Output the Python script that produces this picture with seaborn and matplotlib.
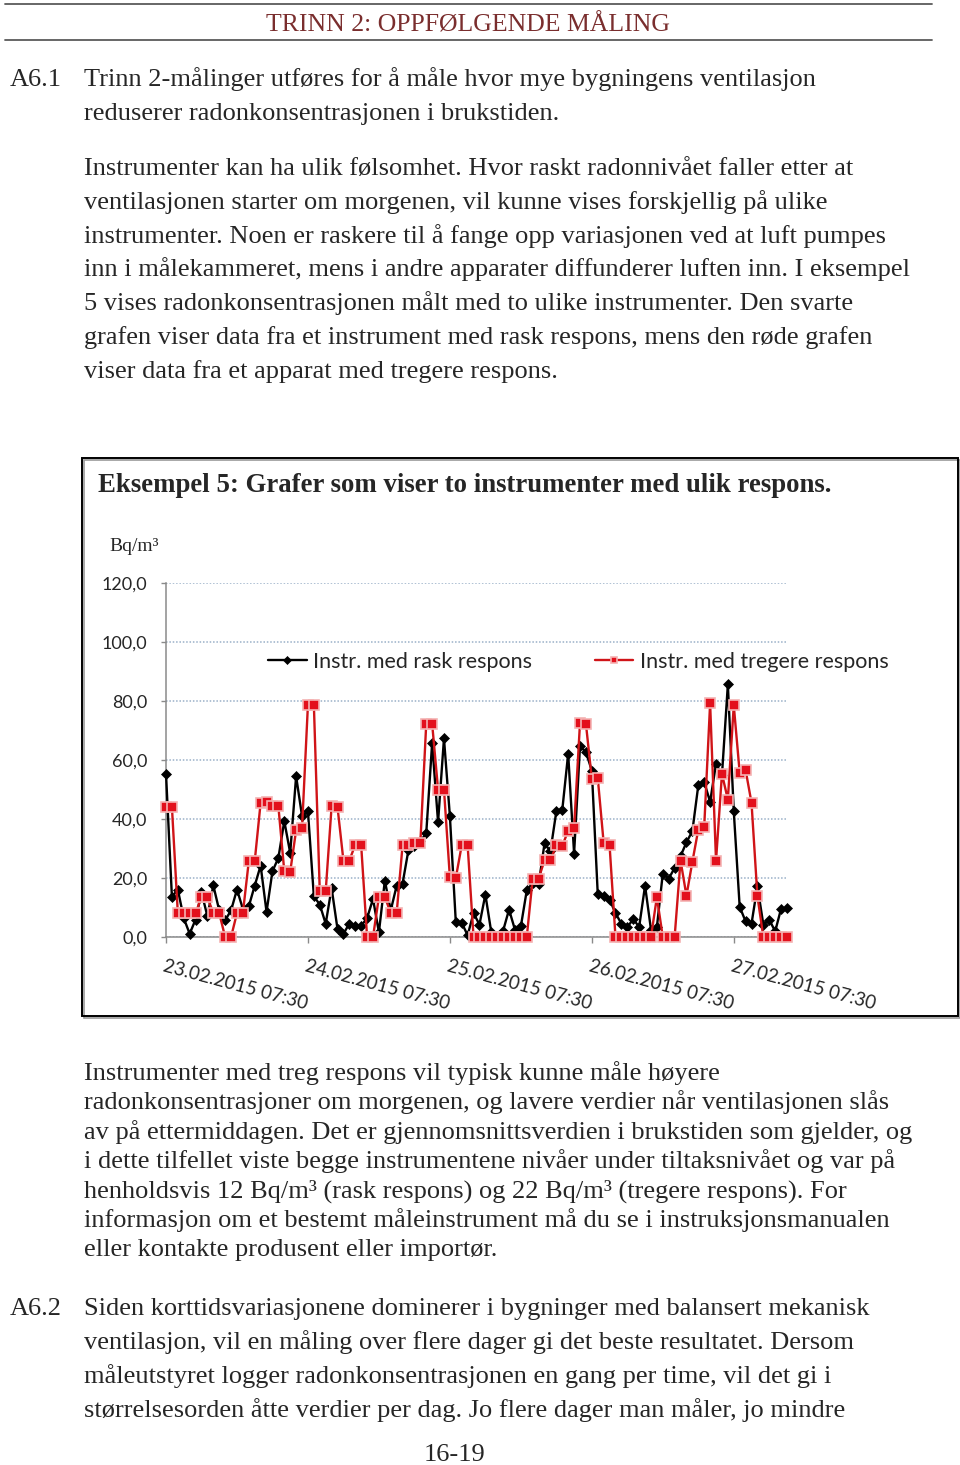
import numpy as np
import pandas as pd
import seaborn as sns
import matplotlib
matplotlib.use("Agg")
import matplotlib.pyplot as plt
from matplotlib.patches import Rectangle
from matplotlib.lines import Line2D

# hourly radon readings, Bq/m3
rask = [55.4, 13.6, 16.1, 6.4, 1.1, 5.9, 15.2, 7.0, 17.5, 9.0,
        5.7, 9.0, 16.1, 9.5, 10.4, 17.4, 24.2, 8.5, 22.3, 26.8,
        39.3, 28.5, 54.5, 41.0, 42.6, 13.8, 11.0, 4.5, 16.6, 2.7,
        1.1, 4.5, 3.6, 3.8, 6.4, 12.9, 1.6, 19.1, 9.0, 17.4,
        18.1, 29.6, 31.0, 32.5, 35.1, 65.8, 38.9, 67.3, 41.0, 5.1,
        4.8, 0.6, 8.1, 4.2, 14.4, 1.6, 0.5, 2.1, 9.3, 2.5,
        3.6, 15.8, 18.3, 17.8, 31.7, 29.1, 42.6, 43.0, 62.1, 28.3,
        64.7, 62.7, 56.4, 14.6, 13.8, 12.7, 8.1, 4.5, 3.3, 6.1,
        3.4, 17.4, 2.5, 3.4, 21.5, 19.8, 23.4, 27.4, 32.1, 35.9,
        51.4, 52.5, 45.8, 58.8, 54.8, 85.6, 42.6, 10.2, 5.3, 4.5,
        17.2, 4.2, 5.9, 1.9, 9.6, 9.7]

treg = [44.1, 44.1, 8.1, 8.1, 8.1, 8.1, 13.5, 13.5, 8.1, 8.1,
        0, 0, 8.1, 8.1, 25.7, 25.7, 45.5, 45.8, 44.3, 44.3,
        22.3, 22.1, 36.2, 36.9, 78.8, 78.8, 15.5, 15.5, 44.3, 44.0,
        25.9, 25.9, 31.3, 31.1, 0, 0, 13.6, 13.6, 8.1, 8.1,
        31.1, 31.3, 31.7, 31.7, 72.3, 72.3, 50.0, 50.0, 20.2, 20.0,
        31.1, 31.1, 0, 0, 0, 0, 0, 0, 0, 0,
        0, 0, 19.8, 19.8, 26.0, 26.0, 31.1, 30.8, 36.1, 37.0,
        72.6, 72.3, 53.6, 54.0, 31.9, 31.1, 0, 0, 0, 0,
        0, 0, 0, 13.5, 0, 0, 0, 25.9, 14.0, 25.5,
        36.4, 37.3, 79.2, 25.9, 55.3, 46.6, 78.5, 55.7, 56.6, 45.5,
        13.8, 0, 0, 0, 0, 0]

date_labels = ["23.02.2015 07:30", "24.02.2015 07:30", "25.02.2015 07:30",
               "26.02.2015 07:30", "27.02.2015 07:30"]
y_ticks = [0, 20, 40, 60, 80, 100, 120]
series_names = ["Instr. med rask respons", "Instr. med tregere respons"]

para1 = ["Trinn 2-målinger utføres for å måle hvor mye bygningens ventilasjon",
         "reduserer radonkonsentrasjonen i brukstiden."]
para2 = ["Instrumenter kan ha ulik følsomhet. Hvor raskt radonnivået faller etter at",
         "ventilasjonen starter om morgenen, vil kunne vises forskjellig på ulike",
         "instrumenter. Noen er raskere til å fange opp variasjonen ved at luft pumpes",
         "inn i målekammeret, mens i andre apparater diffunderer luften inn. I eksempel",
         "5 vises radonkonsentrasjonen målt med to ulike instrumenter. Den svarte",
         "grafen viser data fra et instrument med rask respons, mens den røde grafen",
         "viser data fra et apparat med tregere respons."]
para3 = ["Instrumenter med treg respons vil typisk kunne måle høyere",
         "radonkonsentrasjoner om morgenen, og lavere verdier når ventilasjonen slås",
         "av på ettermiddagen. Det er gjennomsnittsverdien i brukstiden som gjelder, og",
         "i dette tilfellet viste begge instrumentene nivåer under tiltaksnivået og var på",
         "henholdsvis 12 Bq/m³ (rask respons) og 22 Bq/m³ (tregere respons). For",
         "informasjon om et bestemt måleinstrument må du se i instruksjonsmanualen",
         "eller kontakte produsent eller importør."]
para4 = ["Siden korttidsvariasjonene dominerer i bygninger med balansert mekanisk",
         "ventilasjon, vil en måling over flere dager gi det beste resultatet. Dersom",
         "måleutstyret logger radonkonsentrasjonen en gang per time, vil det gi i",
         "størrelsesorden åtte verdier per dag. Jo flere dager man måler, jo mindre"]

sns.set_style("white")
plt.rcParams["font.family"] = ["Liberation Serif", "DejaVu Serif"]

W, H = 960, 1465
fig = plt.figure(figsize=(9.6, 14.65), dpi=100)


def fx(x):
    return x / W


def fy(y):
    return 1 - y / H


serif = "Liberation Serif"
sans = "Lato"
body_size = 19

# page header
fig.add_artist(Line2D([fx(5), fx(932)], [fy(4), fy(4)], color="#5a5a5a", lw=1.3))
fig.add_artist(Line2D([fx(5), fx(932)], [fy(40), fy(40)], color="#5a5a5a", lw=1.3))
fig.text(fx(468), fy(31), "TRINN 2: OPPFØLGENDE MÅLING", ha="center", va="baseline",
         fontsize=18.5, family=serif, color="#7a2e2e")

fig.text(fx(10), fy(86), "A6.1", fontsize=body_size, family=serif, va="baseline")
for i, line in enumerate(para1):
    fig.text(fx(84), fy(86 + 34 * i), line, fontsize=body_size, family=serif, va="baseline")
for i, line in enumerate(para2):
    fig.text(fx(84), fy(175 + 33.8 * i), line, fontsize=body_size, family=serif, va="baseline")
for i, line in enumerate(para3):
    fig.text(fx(84), fy(1080 + 29.3 * i), line, fontsize=body_size, family=serif, va="baseline")
fig.text(fx(10), fy(1315), "A6.2", fontsize=body_size, family=serif, va="baseline")
for i, line in enumerate(para4):
    fig.text(fx(84), fy(1315 + 34 * i), line, fontsize=body_size, family=serif, va="baseline")
fig.text(fx(455), fy(1461), "16-19", ha="center", fontsize=body_size, family=serif, va="baseline")

# chart frame
fig.add_artist(Rectangle((fx(84), fy(1018)), fx(958) - fx(82), fy(458) - fy(1016),
                         transform=fig.transFigure, fill=False, ec="#9a9a9a", lw=1.2))
fig.add_artist(Rectangle((fx(82), fy(1016)), fx(958) - fx(82), fy(458) - fy(1016),
                         transform=fig.transFigure, fill=False, ec="black", lw=1.4))
fig.text(fx(98), fy(492), "Eksempel 5: Grafer som viser to instrumenter med ulik respons.",
         fontsize=19.3, family=serif, fontweight="bold", va="baseline")
fig.text(fx(109), fy(551), "Bq/m³", fontsize=14, family=serif, va="baseline")

ax = fig.add_axes([fx(166), fy(937), fx(787) - fx(166), fy(583) - fy(937)])
df = pd.DataFrame({"t": np.arange(len(rask)), "rask": rask, "treg": treg})

sns.lineplot(data=df, x="t", y="rask", ax=ax, color="black", lw=1.7,
             marker="D", markersize=5.5, markeredgecolor="black", markeredgewidth=0.5,
             label=series_names[0], clip_on=False, zorder=3)
sns.lineplot(data=df, x="t", y="treg", ax=ax, color="#d01418", lw=1.7,
             marker="s", markersize=6.5, markerfacecolor="#e3101c",
             markeredgecolor="#f4b3b3", markeredgewidth=1.2,
             label=series_names[1], clip_on=False, zorder=4)

ax.set_xlim(0, len(rask) - 1)
ax.set_ylim(0, 120)
ax.set_xlabel("")
ax.set_ylabel("")

ax.set_yticks(y_ticks)
ax.set_yticklabels([f"{v:.1f}".replace(".", ",") for v in y_ticks], family=sans, fontsize=13)
ax.set_xticks(np.arange(0, len(rask), 24))
ax.set_xticklabels(date_labels, family=sans, fontsize=13.5, rotation=-15,
                   ha="left", va="top", rotation_mode="anchor")
ax.tick_params(axis="y", length=3.5, color="#8a8a8a", width=1, pad=10, left=True)
ax.tick_params(axis="x", length=4, color="#8a8a8a", width=1, pad=11, bottom=True)

ax.yaxis.grid(True, linestyle=(0, (1, 1.2)), color="#9ab0c8", lw=1.1)
ax.xaxis.grid(False)
ax.set_axisbelow(True)
for side in ["top", "right"]:
    ax.spines[side].set_visible(False)
for side in ["left", "bottom"]:
    ax.spines[side].set_color("#8a8a8a")
    ax.spines[side].set_linewidth(1.1)

handles, labels = ax.get_legend_handles_labels()
ax.get_legend().remove()
fig.legend(handles, labels, loc="center left", bbox_to_anchor=(fx(268), fy(662)),
           ncol=2, frameon=False, prop={"family": sans, "size": 15.5},
           handlelength=1.8, handletextpad=0.3, columnspacing=2.9,
           borderpad=0, borderaxespad=0, markerscale=0.7)

fig.savefig("out.png", dpi=100)
